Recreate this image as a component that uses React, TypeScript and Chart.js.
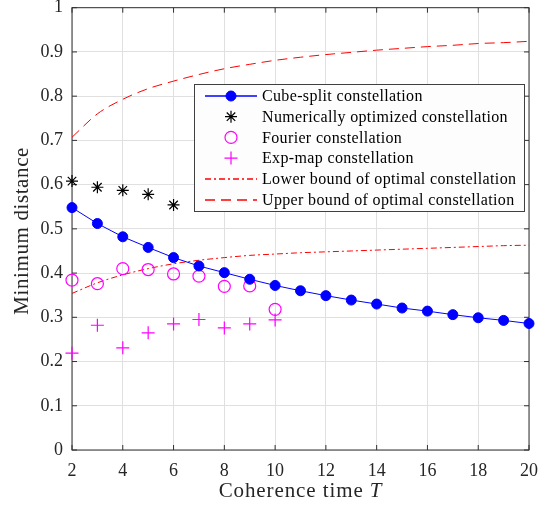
import { useEffect, useRef } from 'react';
import { Chart, registerables } from 'chart.js';
import { drawPoint } from 'chart.js/helpers';

Chart.register(...registerables);

const SERIF = "'Liberation Serif', 'DejaVu Serif', serif";

// values
const coherenceT = [2, 3, 4, 5, 6, 7, 8, 9, 10, 11, 12, 13, 14, 15, 16, 17, 18, 19, 20];
const cubeSplit = [0.548, 0.512, 0.482, 0.458, 0.435, 0.416, 0.401, 0.386, 0.372, 0.360, 0.349, 0.339, 0.330, 0.321, 0.314, 0.306, 0.299, 0.293, 0.286];
const lowerBound = [0.354, 0.378, 0.396, 0.410, 0.421, 0.429, 0.435, 0.440, 0.443, 0.446, 0.448, 0.450, 0.452, 0.454, 0.456, 0.458, 0.460, 0.462, 0.463];
const upperBound = [0.707, 0.760, 0.793, 0.817, 0.834, 0.849, 0.862, 0.872, 0.881, 0.888, 0.894, 0.899, 0.904, 0.908, 0.912, 0.915, 0.919, 0.921, 0.924];

const numOptT = [2, 3, 4, 5, 6];
const numOpt = [0.608, 0.594, 0.587, 0.578, 0.554];

const shortT = [2, 3, 4, 5, 6, 7, 8, 9, 10];
const fourier = [0.384, 0.376, 0.410, 0.408, 0.398, 0.393, 0.370, 0.371, 0.318];
const expMap = [0.219, 0.282, 0.231, 0.265, 0.285, 0.295, 0.276, 0.285, 0.294];

const xTicks = [2, 4, 6, 8, 10, 12, 14, 16, 18, 20];
const yTicks = [0, 0.1, 0.2, 0.3, 0.4, 0.5, 0.6, 0.7, 0.8, 0.9, 1];

const pts = (xs: number[], ys: number[]) => xs.map((x, i) => ({ x, y: ys[i] }));

// box around the axes with inward ticks on all four sides
const framePlugin = {
  id: 'frame',
  beforeDatasetsDraw(chart: any) {
    const { ctx, chartArea: a, scales } = chart;
    ctx.save();
    ctx.strokeStyle = '#303030';
    ctx.lineWidth = 1;
    ctx.beginPath();
    scales.x.ticks.forEach((t: any) => {
      const px = scales.x.getPixelForValue(t.value);
      ctx.moveTo(px, a.bottom);
      ctx.lineTo(px, a.bottom - 5);
      ctx.moveTo(px, a.top);
      ctx.lineTo(px, a.top + 5);
    });
    scales.y.ticks.forEach((t: any) => {
      const py = scales.y.getPixelForValue(t.value);
      ctx.moveTo(a.left, py);
      ctx.lineTo(a.left + 5, py);
      ctx.moveTo(a.right, py);
      ctx.lineTo(a.right - 5, py);
    });
    ctx.stroke();
    ctx.strokeRect(a.left, a.top, a.right - a.left, a.bottom - a.top);
    ctx.restore();
  },
};

// axis titles (x title has an italic T)
const titlePlugin = {
  id: 'titles',
  afterDraw(chart: any) {
    const { ctx, chartArea: a } = chart;
    ctx.save();
    ctx.fillStyle = '#262626';
    ctx.textBaseline = 'alphabetic';
    ctx.letterSpacing = '0.9px';
    ctx.font = `21px ${SERIF}`;
    const part1 = 'Coherence time ';
    const w1 = ctx.measureText(part1).width;
    ctx.font = `italic 21px ${SERIF}`;
    const w2 = ctx.measureText('T').width;
    const cx = (a.left + a.right) / 2;
    const x0 = cx - (w1 + w2) / 2;
    ctx.textAlign = 'left';
    ctx.font = `21px ${SERIF}`;
    ctx.fillText(part1, x0, 497);
    ctx.font = `italic 21px ${SERIF}`;
    ctx.fillText('T', x0 + w1, 497);

    ctx.translate(28, (a.top + a.bottom) / 2 + 2);
    ctx.rotate(-Math.PI / 2);
    ctx.textAlign = 'center';
    ctx.letterSpacing = '0.6px';
    ctx.font = `21px ${SERIF}`;
    ctx.fillText('Minimum distance', 0, 0);
    ctx.restore();
  },
};

// legend box inside the axes, upper right
const legendPlugin = {
  id: 'boxLegend',
  afterDraw(chart: any) {
    const { ctx } = chart;
    const box = { x: 194, y: 84, w: 330, h: 127 };
    ctx.save();
    ctx.fillStyle = '#fdfdfd';
    ctx.fillRect(box.x, box.y, box.w, box.h);
    ctx.strokeStyle = '#404040';
    ctx.lineWidth = 1;
    ctx.strokeRect(box.x + 0.5, box.y + 0.5, box.w, box.h);

    chart.data.datasets.forEach((ds: any, i: number) => {
      const cy = 96 + i * 20.7;
      if (ds.showLine !== false) {
        ctx.save();
        ctx.strokeStyle = ds.borderColor;
        ctx.lineWidth = 1.3;
        ctx.setLineDash(ds.borderDash || []);
        ctx.beginPath();
        ctx.moveTo(205, Math.round(cy));
        ctx.lineTo(257, Math.round(cy));
        ctx.stroke();
        ctx.restore();
      }
      if (ds.pointRadius > 0) {
        ctx.save();
        ctx.strokeStyle = ds.pointBorderColor || ds.borderColor;
        ctx.fillStyle = ds.pointBackgroundColor || ds.backgroundColor;
        ctx.lineWidth = ds.pointBorderWidth;
        ctx.setLineDash([]);
        drawPoint(ctx, {
          pointStyle: ds.pointStyle,
          radius: ds.pointRadius,
          rotation: 0,
          borderWidth: ds.pointBorderWidth,
        }, 231, cy);
        ctx.restore();
      }
      ctx.save();
      ctx.fillStyle = '#000000';
      ctx.letterSpacing = '0.35px';
      ctx.font = `16px ${SERIF}`;
      ctx.textAlign = 'left';
      ctx.textBaseline = 'middle';
      ctx.fillText(ds.label, 262, cy + 1);
      ctx.restore();
    });
    ctx.restore();
  },
};

const MinDistanceChart = () => {
  const canvasRef = useRef<HTMLCanvasElement>(null);
  const chartRef = useRef<Chart | null>(null);

  useEffect(() => {
    if (!canvasRef.current) return;
    const ctx = canvasRef.current.getContext('2d');
    if (!ctx) return;

    if (chartRef.current) {
      chartRef.current.destroy();
    }

    chartRef.current = new Chart(ctx, {
      type: 'scatter',
      data: {
        datasets: [
          {
            label: 'Cube-split constellation',
            data: pts(coherenceT, cubeSplit),
            showLine: true,
            borderColor: '#0000ff',
            backgroundColor: '#0000ff',
            pointBackgroundColor: '#0000ff',
            pointBorderColor: '#0000ff',
            borderWidth: 1,
            pointStyle: 'circle',
            pointRadius: 5,
            pointBorderWidth: 1,
            clip: false,
          },
          {
            label: 'Numerically optimized constellation',
            data: pts(numOptT, numOpt),
            showLine: false,
            borderColor: '#000000',
            backgroundColor: '#000000',
            pointBorderColor: '#000000',
            pointStyle: 'star',
            pointRadius: 6,
            pointBorderWidth: 1.2,
            clip: false,
          },
          {
            label: 'Fourier constellation',
            data: pts(shortT, fourier),
            showLine: false,
            borderColor: '#ff00ff',
            backgroundColor: 'rgba(0,0,0,0)',
            pointBackgroundColor: 'rgba(0,0,0,0)',
            pointBorderColor: '#ff00ff',
            pointStyle: 'circle',
            pointRadius: 6,
            pointBorderWidth: 1.2,
            clip: false,
          },
          {
            label: 'Exp-map constellation',
            data: pts(shortT, expMap),
            showLine: false,
            borderColor: '#ff00ff',
            backgroundColor: '#ff00ff',
            pointBorderColor: '#ff00ff',
            pointStyle: 'cross',
            pointRadius: 6.5,
            pointBorderWidth: 1.2,
            clip: false,
          },
          {
            label: 'Lower bound of optimal constellation',
            data: pts(coherenceT, lowerBound),
            showLine: true,
            borderColor: '#ff0000',
            backgroundColor: '#ff0000',
            borderWidth: 1,
            borderDash: [6, 3, 2, 3],
            cubicInterpolationMode: 'monotone',
            pointRadius: 0,
            pointHoverRadius: 0,
            clip: false,
          },
          {
            label: 'Upper bound of optimal constellation',
            data: pts(coherenceT, upperBound),
            showLine: true,
            borderColor: '#ff0000',
            backgroundColor: '#ff0000',
            borderWidth: 1,
            borderDash: [10, 6],
            cubicInterpolationMode: 'monotone',
            pointRadius: 0,
            pointHoverRadius: 0,
            clip: false,
          },
        ] as any,
      },
      options: {
        responsive: false,
        animation: false,
        layout: { padding: { top: 5, right: 24, left: 0, bottom: 0 } },
        plugins: {
          legend: { display: false },
          tooltip: { enabled: false },
        },
        scales: {
          x: {
            type: 'linear',
            min: 2,
            max: 20,
            afterBuildTicks: (scale: any) => {
              scale.ticks = xTicks.map((v) => ({ value: v }));
            },
            afterFit: (scale: any) => {
              scale.height = 58;
              scale.paddingLeft = 0;
              scale.paddingRight = 0;
            },
            ticks: {
              color: '#262626',
              font: { family: SERIF, size: 18 },
              padding: 10,
              maxRotation: 0,
              autoSkip: false,
              callback: (v: any) => String(v),
            },
            grid: { color: '#e0e0e0', drawTicks: false },
            border: { display: false },
          },
          y: {
            type: 'linear',
            min: 0,
            max: 1,
            afterBuildTicks: (scale: any) => {
              scale.ticks = yTicks.map((v) => ({ value: v }));
            },
            afterFit: (scale: any) => {
              scale.width = 72;
              scale.paddingTop = 0;
              scale.paddingBottom = 0;
            },
            ticks: {
              color: '#262626',
              font: { family: SERIF, size: 18 },
              padding: 9,
              autoSkip: false,
              callback: (v: any) => String(Number(Number(v).toFixed(1))),
            },
            grid: { color: '#e0e0e0', drawTicks: false },
            border: { display: false },
          },
        },
      },
      plugins: [framePlugin, titlePlugin, legendPlugin],
    });

    return () => {
      if (chartRef.current) {
        chartRef.current.destroy();
        chartRef.current = null;
      }
    };
  }, []);

  return (
    <div style={{ position: 'absolute', left: 0, top: 0, width: 553, height: 508, background: '#ffffff' }}>
      <canvas ref={canvasRef} width={553} height={508} />
    </div>
  );
};

export default function App() {
  return <MinDistanceChart />;
}
